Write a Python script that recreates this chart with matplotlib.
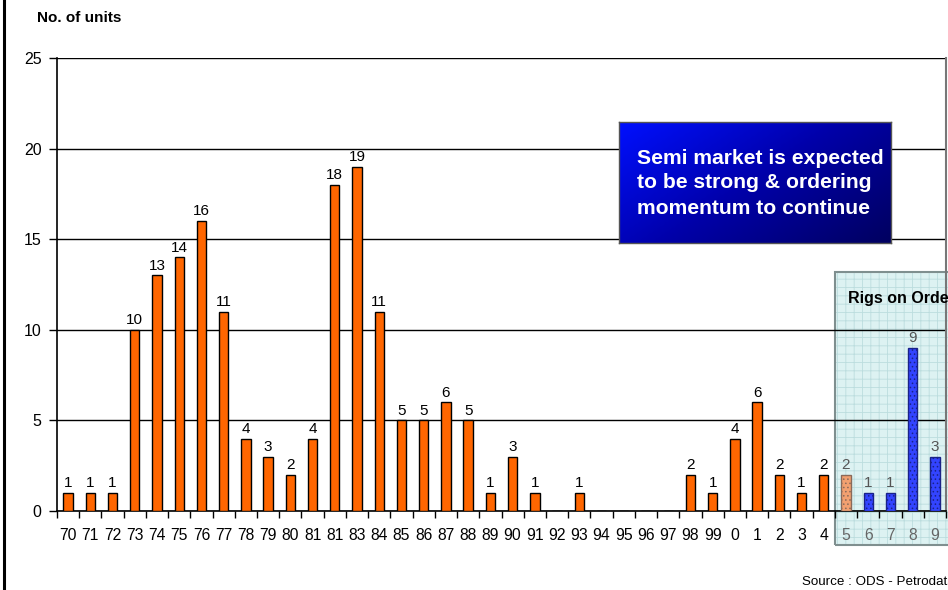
import numpy as np
import matplotlib
matplotlib.use("Agg")
import matplotlib.pyplot as plt
from matplotlib.patches import Rectangle
from matplotlib.lines import Line2D
from matplotlib.colors import LinearSegmentedColormap

plt.rcParams['font.family'] = ['Liberation Sans', 'DejaVu Sans']
plt.rcParams['hatch.linewidth'] = 0.6

# rig deliveries per year
years = ['70', '71', '72', '73', '74', '75', '76', '77', '78', '79',
         '80', '81', '81', '83', '84', '85', '86', '87', '88', '89',
         '90', '91', '92', '93', '94', '95', '96', '97', '98', '99',
         '0', '1', '2', '3', '4', '5', '6', '7', '8', '9']
units = [1, 1, 1, 10, 13, 14, 16, 11, 4, 3,
         2, 4, 18, 19, 11, 5, 5, 6, 5, 1,
         3, 1, 0, 1, 0, 0, 0, 0, 2, 1,
         4, 6, 2, 1, 2, 2, 1, 1, 9, 3]
order_start = '5'   # first year of the order book
yticks = [0, 5, 10, 15, 20, 25]

W, H = 948, 590
fig = plt.figure(figsize=(W / 100, H / 100), dpi=100)


def fx(px):
    return px / W


def fy(py):
    return 1 - py / H


# order book panel, drawn on the figure underneath the transparent axes
bx0, by0, bx1, by1 = fx(835), fy(545), fx(960), fy(272)
fig.patches.append(Rectangle((bx0, by0), bx1 - bx0, by1 - by0, transform=fig.transFigure,
                             facecolor='#DDF2F2', edgecolor='none', zorder=-2))
fig.patches.append(Rectangle((bx0, by0), bx1 - bx0, by1 - by0, transform=fig.transFigure,
                             facecolor='none', edgecolor='#BCDDDE', hatch='++',
                             linewidth=0, zorder=-1.9))
fig.patches.append(Rectangle((bx0, by0), bx1 - bx0, by1 - by0, transform=fig.transFigure,
                             facecolor='none', edgecolor='#7F8F8F', linewidth=1.5,
                             zorder=-1.8))

ax = fig.add_axes([fx(57), fy(511), fx(946) - fx(57), fy(58) - fy(511)])
ax.patch.set_alpha(0)

x = np.arange(len(years))
first_order = years.index(order_start, 30)

colors = []
edges = []
hatches = []
for i in range(len(years)):
    if i < first_order:
        colors.append('#FF6600'); edges.append('black'); hatches.append(None)
    elif i == first_order:
        colors.append('#F2A070'); edges.append('#8A6A5A'); hatches.append('....')
    else:
        colors.append('#3344FF'); edges.append('#1A2288'); hatches.append('....')

bars = ax.bar(x, units, width=0.42, color=colors, edgecolor=edges,
              linewidth=1.0, zorder=3)
for b, h in zip(bars, hatches):
    if h:
        b.set_hatch(h)

for i, v in enumerate(units):
    if v == 0:
        continue
    c = 'black' if i < first_order else '#555555'
    ax.annotate(str(v), (x[i], v), xytext=(0, 2), textcoords='offset points',
                ha='center', va='bottom', fontsize=11, color=c, zorder=4)

ax.set_xlim(-0.5, len(years) - 0.5)
ax.set_ylim(0, 25)
ax.set_yticks(yticks)
ax.yaxis.grid(True, color='black', linewidth=1.0)
ax.set_axisbelow(True)

ax.set_xticks(x)
ax.set_xticklabels(years)
ax.set_xticks(np.arange(-0.5, len(years), 1), minor=True)
ax.tick_params(axis='x', which='major', length=0, pad=12, labelsize=11.3)
ax.tick_params(axis='x', which='minor', length=5, width=1, direction='out')
ax.tick_params(axis='y', length=6, width=1, pad=5, labelsize=11.5)
for i, lab in enumerate(ax.get_xticklabels()):
    if i >= first_order:
        lab.set_color('#666666')

ax.spines['top'].set_visible(False)
ax.spines['right'].set_color('#777777')
ax.spines['right'].set_linewidth(1.5)
ax.spines['left'].set_linewidth(1.2)
ax.spines['bottom'].set_linewidth(1.2)

fig.text(fx(848), fy(299), 'Rigs on Order', fontsize=11.5, fontweight='bold',
         va='center', ha='left')

# callout box with gradient fill
cax = fig.add_axes([fx(619), fy(243), fx(891) - fx(619), fy(122) - fy(243)])
gx, gy = np.meshgrid(np.linspace(0, 1, 200), np.linspace(0, 1, 100))
grad = 0.6 * gx + 0.4 * gy
cmap = LinearSegmentedColormap.from_list('callout', ['#0010FF', '#0000A8', '#000060'])
cax.imshow(grad, cmap=cmap, aspect='auto', extent=(0, 1, 1, 0))
cax.set_xticks([]); cax.set_yticks([])
for s in cax.spines.values():
    s.set_color('#555555'); s.set_linewidth(1)
fig.text(fx(637), fy(183), 'Semi market is expected\nto be strong & ordering\nmomentum to continue',
         color='white', fontsize=15.2, fontweight='bold', va='center', ha='left',
         linespacing=1.4)

fig.text(fx(37), fy(18), 'No. of units', fontsize=11, fontweight='bold',
         va='center', ha='left')
fig.text(fx(802), fy(582), 'Source : ODS - Petrodata', fontsize=9.6,
         va='center', ha='left')
fig.add_artist(Line2D([fx(4), fx(4)], [0, 1], color='black', linewidth=2.2,
                      transform=fig.transFigure))

fig.savefig('out.png', dpi=100)
